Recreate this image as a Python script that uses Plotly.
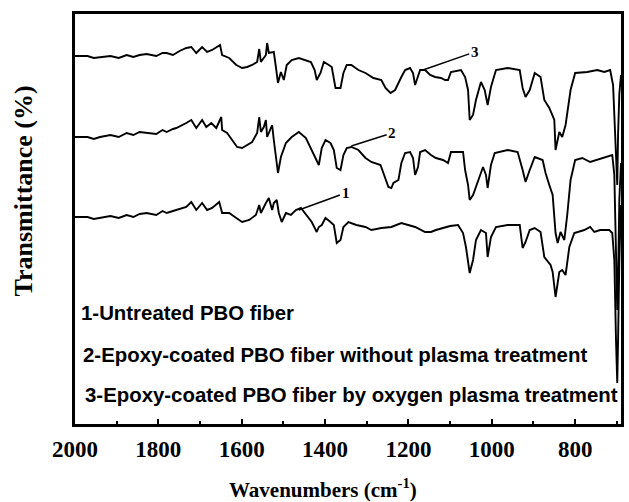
import plotly.graph_objects as go

# ---- data (wavenumber in cm-1, transmittance in arbitrary offset units) ----
wn_3 = [2000, 1970, 1955, 1940, 1915, 1895, 1876, 1860, 1845, 1828, 1805, 1790, 1780, 1765, 1749, 1733,
        1721, 1709, 1695, 1683, 1671, 1652, 1647, 1630, 1613,
        1599, 1587, 1575, 1563, 1558, 1554, 1542, 1539, 1535, 1523, 1518, 1513, 1506, 1499, 1492, 1480,
        1463, 1446, 1434, 1425, 1420, 1411, 1403, 1391, 1384, 1375, 1363, 1356, 1348, 1337, 1320, 1303,
        1284, 1265, 1255, 1243, 1232, 1217, 1208, 1196, 1189, 1184, 1177, 1172, 1160, 1148, 1136, 1122,
        1112, 1105, 1098, 1074, 1064, 1057, 1053, 1045, 1038, 1026, 1017, 1010, 1002, 990, 962, 933,
        926, 919, 909, 897, 883, 874, 862, 854, 850, 847, 842, 838, 831, 823, 811, 800, 771, 747,
        730, 716, 709, 704, 699, 697, 694, 690]
t_3 = [368, 368, 366, 367, 368, 366, 369, 367, 369, 370, 368, 371, 371, 369, 373, 376,
       377, 371, 377, 372, 374, 379, 369, 366, 359,
       356, 357, 359, 362, 375, 362, 369, 381, 371, 372, 357, 341, 352, 344, 359, 364,
       366, 364, 362, 354, 344, 351, 362, 359, 357, 336, 336, 351, 359, 359, 354, 351,
       346, 344, 336, 331, 334, 347, 354, 356, 351, 339, 347, 354, 354, 349, 347, 346,
       344, 344, 352, 354, 347, 334, 304, 309, 324, 342, 334, 319, 337, 354, 356, 354,
       336, 327, 334, 351, 347, 324, 316, 309, 304, 274, 284, 292, 287, 299, 334, 351, 352, 354,
       352, 354, 339, 294, 239, 290, 330, 349]

wn_2 = [2000, 1970, 1955, 1940, 1915, 1895, 1876, 1860, 1845, 1828, 1805, 1790, 1780, 1765, 1757, 1733,
        1721, 1709, 1695, 1685, 1673, 1661, 1649, 1647, 1635,
        1623, 1611, 1599, 1587, 1575, 1563, 1558, 1554, 1547, 1542, 1539, 1530, 1527, 1523, 1516, 1513,
        1506, 1494, 1480, 1463, 1446, 1432, 1420, 1415, 1408, 1399, 1387, 1379, 1372, 1363, 1356, 1348,
        1337, 1320, 1303, 1289, 1267, 1260, 1248, 1241, 1236, 1224, 1217, 1208, 1196, 1189, 1184, 1177,
        1172, 1160, 1146, 1134, 1117, 1105, 1098, 1069, 1064, 1057, 1053, 1045, 1033, 1021, 1014, 1010,
        1002, 993, 962, 938, 926, 919, 909, 897, 878, 871, 862, 854, 847, 842, 835, 826, 819, 811,
        800, 783, 764, 747, 723, 711, 706, 702, 699, 697, 694, 690]
t_2 = [287, 287, 285, 287, 289, 287, 291, 289, 292, 291, 290, 294, 292, 295, 296, 301,
       304, 296, 304, 297, 301, 296, 307, 294, 291,
       284, 277, 276, 279, 282, 291, 307, 292, 297, 304, 287, 296, 299, 284, 264, 251,
       267, 281, 287, 292, 286, 274, 264, 259, 276, 284, 281, 274, 256, 254, 269, 276,
       277, 274, 266, 262, 259, 251, 237, 236, 241, 244, 261, 271, 272, 266, 249, 257,
       272, 274, 269, 266, 264, 261, 272, 272, 254, 239, 224, 229, 244, 257, 249, 236,
       259, 271, 274, 272, 254, 242, 254, 267, 264, 251, 239, 229, 191, 181, 192, 184, 209, 244,
       264, 266, 262, 264, 267, 269, 249, 174, 114, 144, 224, 261]

wn_1 = [2000, 1970, 1955, 1940, 1915, 1895, 1876, 1860, 1845, 1828, 1805, 1790, 1780, 1765, 1757, 1733,
        1721, 1709, 1695, 1683, 1671, 1654, 1647, 1630, 1613,
        1599, 1582, 1566, 1558, 1554, 1542, 1535, 1527, 1523, 1516, 1511, 1504, 1494, 1482, 1470, 1458,
        1446, 1432, 1420, 1415, 1408, 1399, 1387, 1379, 1372, 1363, 1356, 1344, 1325, 1303, 1289, 1265,
        1241, 1217, 1184, 1160, 1146, 1134, 1117, 1100, 1081, 1069, 1062, 1053, 1045, 1038, 1026, 1014,
        1010, 1002, 990, 962, 933, 926, 919, 909, 897, 883, 874, 859, 854, 847, 838, 831, 823, 814,
        802, 778, 764, 754, 740, 718, 711, 706, 702, 699, 697, 694, 690]
t_1 = [207, 207, 205, 206, 208, 206, 209, 207, 210, 211, 209, 213, 211, 213, 214, 217,
       222, 214, 221, 214, 216, 222, 211, 211, 206,
       202, 204, 209, 219, 211, 221, 226, 214, 221, 224, 211, 202, 211, 209, 214, 216,
       209, 202, 192, 197, 199, 206, 202, 199, 181, 184, 197, 202, 199, 197, 194, 196,
       197, 201, 197, 192, 192, 194, 196, 198, 199, 191, 177, 151, 164, 184, 194, 191,
       167, 187, 197, 199, 199, 176, 182, 194, 196, 192, 167, 159, 152, 127, 152, 154, 149, 177,
       191, 194, 197, 192, 194, 194, 191, 164, 84, 41, 84, 164, 219]

series_names = ["1-Untreated PBO fiber",
                "2-Epoxy-coated PBO fiber without plasma treatment",
                "3-Epoxy-coated PBO fiber by oxygen plasma treatment"]

# curve labels: point on curve (wn, T) and label position (wn, T)
label_ids = ["1", "2", "3"]
label_point_wn = [1463, 1337, 1165]
label_point_t = [214, 278, 354]
label_text_wn = [1351, 1239, 1041]
label_text_t = [231, 291, 372]

x_ticks = [2000, 1800, 1600, 1400, 1200, 1000, 800]

fig = go.Figure()
for wn, t, name in [(wn_1, t_1, series_names[0]), (wn_2, t_2, series_names[1]), (wn_3, t_3, series_names[2])]:
    fig.add_trace(go.Scatter(x=wn, y=t, mode="lines", name=name,
                             line=dict(color="black", width=1.9), showlegend=False))

serif = "Liberation Serif, Times New Roman, serif"
sans = "Liberation Sans, Arial, sans-serif"

for lab, px, py, tx, ty in zip(label_ids, label_point_wn, label_point_t, label_text_wn, label_text_t):
    fig.add_annotation(x=px, y=py, ax=tx, ay=ty, axref="x", ayref="y", xref="x", yref="y",
                       text=lab, showarrow=True, arrowhead=0, arrowwidth=1.5, arrowcolor="black",
                       standoff=0, startstandoff=0,
                       font=dict(family=serif, size=15, color="black", weight="bold"))

legend_y = [0.271, 0.168, 0.071]
legend_x = [0.008, 0.0115, 0.015]
for name, lx, ly in zip(series_names, legend_x, legend_y):
    fig.add_annotation(x=lx, y=ly, xref="paper", yref="paper", xanchor="left", yanchor="middle",
                       text=name, showarrow=False,
                       font=dict(family=sans, size=20.4, color="black", weight="bold"))

fig.add_annotation(x=0.4536, y=-0.158, xref="paper", yref="paper", xanchor="center", yanchor="middle",
                   text="Wavenumbers (cm<sup>-1</sup>)", showarrow=False,
                   font=dict(family=serif, size=21, color="black", weight="bold"))
fig.add_annotation(x=-0.0947, y=0.568, xref="paper", yref="paper", xanchor="center", yanchor="middle",
                   text="Transmittance (%)", showarrow=False, textangle=-90,
                   font=dict(family=serif, size=26, color="black", weight="bold"))

fig.update_xaxes(range=[2000, 690], tickvals=x_ticks, ticktext=[str(v) for v in x_ticks],
                 ticks="inside", ticklen=5, tickwidth=2, tickcolor="black",
                 minor=dict(dtick=100, tick0=0, ticks="inside", ticklen=3, tickwidth=2, tickcolor="black"),
                 showline=True, linewidth=2.5, linecolor="black", mirror=True,
                 showgrid=False, zeroline=False, ticklabelstandoff=3,
                 tickfont=dict(family=serif, size=23, color="black", weight="bold"))
fig.update_yaxes(range=[0, 410], showticklabels=False, ticks="",
                 showline=True, linewidth=2.5, linecolor="black", mirror=True,
                 showgrid=False, zeroline=False)

fig.update_layout(width=629, height=502, margin=dict(l=75, r=5, t=14, b=78),
                  plot_bgcolor="white", paper_bgcolor="white")

fig.write_html("out.html", config={"displayModeBar": False},
               post_script="document.body.style.margin='0';document.body.style.overflow='hidden';")
